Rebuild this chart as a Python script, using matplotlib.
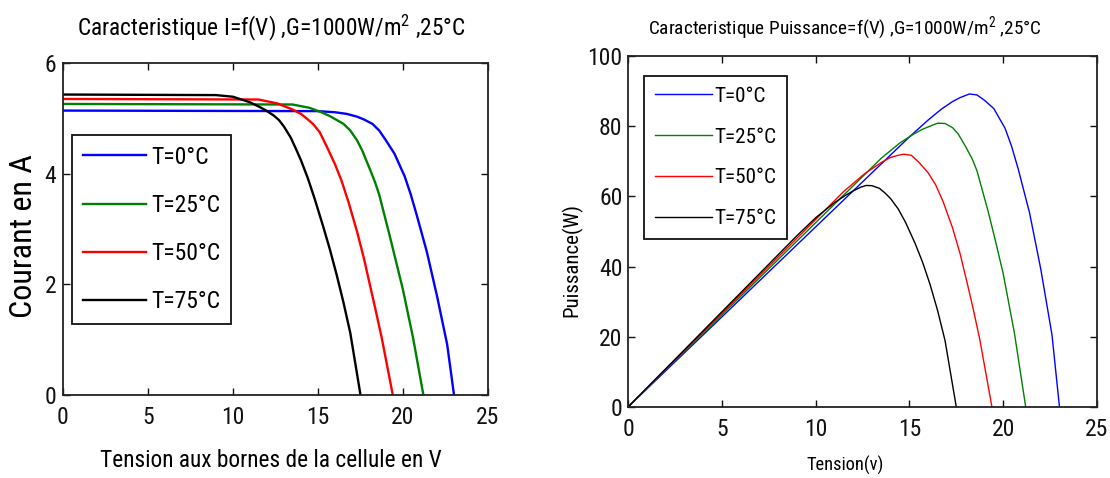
import matplotlib
matplotlib.use("Agg")
import matplotlib.pyplot as plt
import numpy as np

# Module I-V characteristic at G = 1000 W/m^2 for four cell temperatures
labels = ["T=0°C", "T=25°C", "T=50°C", "T=75°C"]
colors = ["#0000ff", "#008000", "#ff0000", "#000000"]

v_t0 = [0, 15.0, 16.0, 16.7, 17.3, 17.7, 18.2, 18.6, 19.0, 19.5, 20.1, 20.45, 20.8, 21.4, 22.0, 22.6, 23.0]
i_t0 = [5.14, 5.13, 5.11, 5.08, 5.03, 4.98, 4.90, 4.78, 4.60, 4.36, 3.95, 3.63, 3.26, 2.59, 1.79, 0.91, 0.0]

v_t25 = [0, 13.5, 14.5, 15.2, 15.7, 16.1, 16.5, 16.9, 17.3, 17.6, 18.0, 18.35, 18.6, 19.2, 19.6, 20.0, 20.6, 21.2]
i_t25 = [5.26, 5.25, 5.19, 5.11, 5.04, 4.97, 4.90, 4.78, 4.60, 4.42, 4.12, 3.85, 3.62, 2.90, 2.40, 1.90, 1.02, 0.0]

v_t50 = [0, 11.5, 12.6, 13.5, 14.0, 14.4, 14.7, 15.1, 15.5, 16.0, 16.4, 16.8, 17.3, 17.7, 18.06, 18.4, 18.75, 19.4]
i_t50 = [5.35, 5.34, 5.27, 5.16, 5.08, 4.98, 4.90, 4.75, 4.50, 4.17, 3.86, 3.48, 2.95, 2.47, 1.98, 1.52, 1.03, 0.0]

v_t75 = [0, 9.0, 10.0, 11.0, 11.6, 12.0, 12.4, 12.7, 13.0, 13.4, 13.7, 14.0, 14.4, 14.8, 15.3, 15.7, 16.1, 16.5, 16.9, 17.5]
i_t75 = [5.43, 5.42, 5.39, 5.29, 5.20, 5.13, 5.05, 4.97, 4.85, 4.65, 4.45, 4.24, 3.92, 3.55, 3.05, 2.63, 2.17, 1.67, 1.12, 0.0]

voltages = [v_t0, v_t25, v_t50, v_t75]
currents = [i_t0, i_t25, i_t50, i_t75]

xticks = [0, 5, 10, 15, 20, 25]
yticks_i = [0, 2, 4, 6]
yticks_p = [0, 20, 40, 60, 80, 100]

FAMILY = ["Roboto Condensed", "Liberation Sans", "DejaVu Sans"]
plt.rcParams["font.family"] = FAMILY
plt.rcParams["mathtext.fontset"] = "custom"
plt.rcParams["mathtext.rm"] = "Roboto Condensed"
plt.rcParams["mathtext.it"] = "Roboto Condensed"

W, H = 1110, 478
fig = plt.figure(figsize=(W / 100, H / 100), dpi=100)
fig.patch.set_facecolor("white")


def axes_px(left, top, right, bottom):
    return fig.add_axes([left / W, 1 - bottom / H, (right - left) / W, (bottom - top) / H])


def style_axes(ax, ypad):
    ax.tick_params(direction="in", length=5, width=1.0, top=True, right=True,
                   labelsize=17, colors="#111111")
    ax.tick_params(axis="x", pad=8)
    ax.tick_params(axis="y", pad=ypad)
    for s in ax.spines.values():
        s.set_linewidth(1.3)
        s.set_color("#222222")


ax1 = axes_px(63, 63, 488, 395)
ax2 = axes_px(628, 56, 1097, 407)

# Left: current versus voltage
for v, i, c, lab in zip(voltages, currents, colors, labels):
    ax1.plot(v, i, color=c, lw=1.7, label=lab)
ax1.set_xlim(0, 25)
ax1.set_ylim(0, 6)
ax1.set_xticks(xticks)
ax1.set_yticks(yticks_i)
style_axes(ax1, 5)
ax1.text(0.49, 1.105, "Caracteristique I=f(V) ,G=1000W/m$^2$ ,25°C",
         transform=ax1.transAxes, ha="center", va="center", fontsize=16.8)
ax1.set_xlabel("Tension aux bornes de la cellule en V", fontsize=16.8, va="center")
ax1.xaxis.set_label_coords(0.49, -0.196)
ax1.set_ylabel("Courant en A", fontsize=23, va="center")
ax1.yaxis.set_label_coords(-0.094, 0.48)
leg1 = ax1.legend(loc="upper left", bbox_to_anchor=(0.021, 0.783), borderaxespad=0,
                  fontsize=17, handlelength=2.7, labelspacing=1.07, borderpad=0.45,
                  handletextpad=0.2, fancybox=False, framealpha=1, edgecolor="#111111")
leg1.get_frame().set_linewidth(1.3)

# Right: power versus voltage
for v, i, c, lab in zip(voltages, currents, colors, labels):
    p = np.asarray(v) * np.asarray(i)
    ax2.plot(v, p, color=c, lw=1.0, label=lab)
ax2.set_xlim(0, 25)
ax2.set_ylim(0, 100)
ax2.set_xticks(xticks)
ax2.set_yticks(yticks_p)
style_axes(ax2, 4)
ax2.text(0.463, 1.08, "Caracteristique Puissance=f(V) ,G=1000W/m$^2$ ,25°C",
         transform=ax2.transAxes, ha="center", va="center", fontsize=13.9)
ax2.set_xlabel("Tension(v)", fontsize=13.2, va="center")
ax2.xaxis.set_label_coords(0.463, -0.165)
ax2.set_ylabel("Puissance(W)", fontsize=15, va="center")
ax2.yaxis.set_label_coords(-0.119, 0.42)
leg2 = ax2.legend(loc="upper left", bbox_to_anchor=(0.034, 0.943), borderaxespad=0,
                  fontsize=15.2, handlelength=2.7, labelspacing=1.04, borderpad=0.5,
                  handletextpad=0.12, fancybox=False, framealpha=1, edgecolor="#111111")
leg2.get_frame().set_linewidth(1.3)

fig.savefig("out.png", dpi=100, facecolor="white")
